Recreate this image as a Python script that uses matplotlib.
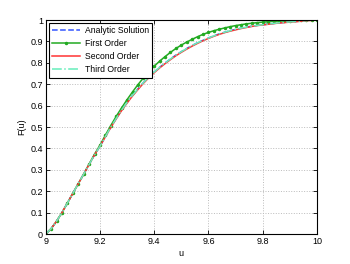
import matplotlib
matplotlib.use("Agg")
import matplotlib.pyplot as plt

plt.rcParams['font.family'] = ['Liberation Sans', 'DejaVu Sans']

u = [9.00, 9.02, 9.04, 9.06, 9.08, 9.10, 9.12, 9.14, 9.16, 9.18,
     9.20, 9.22, 9.24, 9.26, 9.28, 9.30, 9.32, 9.34, 9.36, 9.38,
     9.40, 9.42, 9.44, 9.46, 9.48, 9.50, 9.52, 9.54, 9.56, 9.58,
     9.60, 9.62, 9.64, 9.66, 9.68, 9.70, 9.72, 9.74, 9.76, 9.78,
     9.80, 9.82, 9.84, 9.86, 9.88, 9.90, 9.92, 9.94, 9.96, 9.98, 10.00]

analytic = [0.0, 0.025, 0.06, 0.10, 0.145, 0.19, 0.235, 0.28, 0.325, 0.37,
            0.41, 0.455, 0.50, 0.54, 0.58, 0.615, 0.648, 0.678, 0.707, 0.733,
            0.757, 0.779, 0.799, 0.818, 0.836, 0.852, 0.867, 0.881, 0.894, 0.905,
            0.916, 0.926, 0.935, 0.943, 0.950, 0.956, 0.962, 0.967, 0.971, 0.975,
            0.978, 0.981, 0.984, 0.987, 0.989, 0.991, 0.993, 0.995, 0.997, 0.999, 1.0]

first = [0.0, 0.025, 0.06, 0.10, 0.145, 0.19, 0.235, 0.28, 0.327, 0.373,
         0.415, 0.462, 0.507, 0.55, 0.59, 0.628, 0.664, 0.698, 0.729, 0.758,
         0.784, 0.808, 0.829, 0.849, 0.867, 0.883, 0.897, 0.910, 0.922, 0.933,
         0.942, 0.950, 0.957, 0.963, 0.969, 0.974, 0.978, 0.982, 0.985, 0.988,
         0.990, 0.992, 0.994, 0.995, 0.996, 0.997, 0.998, 0.999, 0.999, 1.0, 1.0]

second = [0.0, 0.025, 0.06, 0.10, 0.145, 0.19, 0.235, 0.28, 0.325, 0.37,
          0.41, 0.454, 0.498, 0.538, 0.577, 0.612, 0.645, 0.675, 0.704, 0.730,
          0.754, 0.776, 0.796, 0.815, 0.833, 0.849, 0.864, 0.878, 0.891, 0.903,
          0.914, 0.924, 0.933, 0.941, 0.948, 0.954, 0.960, 0.965, 0.970, 0.974,
          0.977, 0.980, 0.983, 0.986, 0.988, 0.990, 0.992, 0.994, 0.996, 0.998, 1.0]

third = [0.0, 0.025, 0.06, 0.10, 0.145, 0.19, 0.235, 0.28, 0.325, 0.37,
         0.41, 0.455, 0.50, 0.54, 0.58, 0.615, 0.648, 0.678, 0.707, 0.733,
         0.757, 0.779, 0.799, 0.818, 0.836, 0.852, 0.867, 0.881, 0.894, 0.905,
         0.916, 0.926, 0.935, 0.943, 0.950, 0.956, 0.962, 0.967, 0.971, 0.975,
         0.978, 0.981, 0.984, 0.987, 0.989, 0.991, 0.993, 0.995, 0.997, 0.999, 1.0]

xticks = [9, 9.2, 9.4, 9.6, 9.8, 10]
xticklabels = ['9', '9.2', '9.4', '9.6', '9.8', '10']
yticks = [0, 0.1, 0.2, 0.3, 0.4, 0.5, 0.6, 0.7, 0.8, 0.9, 1]
yticklabels = ['0', '0.1', '0.2', '0.3', '0.4', '0.5', '0.6', '0.7', '0.8', '0.9', '1']

fig = plt.figure(figsize=(3.5, 2.64), dpi=100)
ax = fig.add_axes([0.1306, 0.1136, 0.775, 0.8106])

ax.plot(u, analytic, '--', color='#3355ff', lw=1.1, label='Analytic Solution')
ax.plot(u, first, '.-', color='#22aa22', lw=1.1, ms=3, label='First Order')
ax.plot(u, second, '-', color='#ff3333', lw=1.1, label='Second Order')
ax.plot(u, third, '-.', color='#66eebb', lw=1.1, label='Third Order')

ax.set_xlim(9, 10)
ax.set_ylim(0, 1)
ax.set_xticks(xticks)
ax.set_xticklabels(xticklabels)
ax.set_yticks(yticks)
ax.set_yticklabels(yticklabels)
ax.tick_params(direction='in', length=3, width=0.6, labelsize=6.5, pad=2,
               top=True, right=True)
ax.grid(True, linestyle=':', color='#bbbbbb', lw=0.7)
for s in ax.spines.values():
    s.set_linewidth(0.8)

ax.set_xlabel('u', fontsize=6.5, labelpad=2)
ax.set_ylabel('F(u)', fontsize=6.5, labelpad=3)

leg = ax.legend(loc='upper left', fontsize=6.2, handlelength=3.2, fancybox=False,
                framealpha=1, edgecolor='black', borderaxespad=0.35,
                labelspacing=0.45, borderpad=0.4, handletextpad=0.6)
leg.get_frame().set_linewidth(0.8)

fig.savefig('out.png', dpi=100)
